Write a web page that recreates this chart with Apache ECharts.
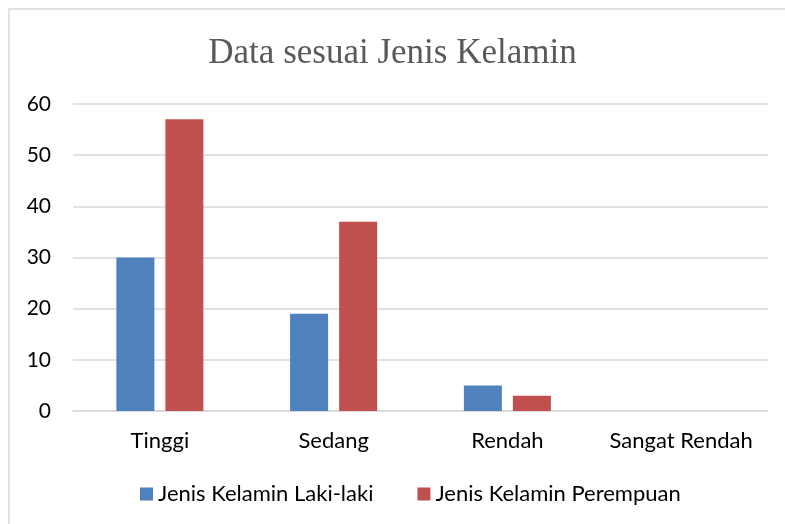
<!DOCTYPE html>
<html>
<head>
<meta charset="utf-8">
<script src="https://cdn.jsdelivr.net/npm/echarts@6/dist/echarts.min.js"></script>
<style>
  html, body { margin: 0; padding: 0; background: #fff; }
  #chart { width: 785px; height: 524px; }
</style>
</head>
<body>
<div id="chart"></div>
<script>
var categories = ["Tinggi", "Sedang", "Rendah", "Sangat Rendah"];
var lakiLaki = [30, 19, 5, 0];
var perempuan = [57, 37, 3, 0];
var seriesNames = ["Jenis Kelamin Laki-laki", "Jenis Kelamin Perempuan"];
var colors = ["#4F81BD", "#C0504D"];

var myChart = echarts.init(document.getElementById("chart"));
var option = {
  animation: false,
  graphic: [{
    type: "rect",
    shape: { x: 9, y: 9, width: 800, height: 540 },
    style: { fill: "none", stroke: "#d9d9d9", lineWidth: 1.5 }
  }],
  title: {
    text: "Data sesuai Jenis Kelamin",
    left: "center",
    top: 31,
    textStyle: {
      fontFamily: "Liberation Serif",
      fontWeight: "normal",
      fontSize: 35,
      color: "#595959"
    }
  },
  legend: {
    bottom: 14,
    left: 135,
    itemWidth: 13,
    itemHeight: 13,
    itemGap: 44,
    icon: "rect",
    textStyle: { fontFamily: "Lato", fontSize: 22, color: "#000" },
    data: seriesNames
  },
  grid: { left: 73, right: 17, top: 104, bottom: 113 },
  xAxis: {
    type: "category",
    data: categories,
    axisTick: { show: false },
    axisLine: { lineStyle: { color: "#d9d9d9", width: 1.5 } },
    axisLabel: { fontFamily: "Lato", fontSize: 22, color: "#000", margin: 19, interval: 0 }
  },
  yAxis: {
    type: "value",
    min: 0,
    max: 60,
    interval: 10,
    axisLine: { show: false },
    axisTick: { show: false },
    axisLabel: { fontFamily: "Lato", fontSize: 21, color: "#000", margin: 22 },
    splitLine: { lineStyle: { color: "#d9d9d9", width: 1.5 } }
  },
  series: [
    {
      name: seriesNames[0],
      type: "bar",
      data: lakiLaki,
      barWidth: 38,
      barGap: "29%",
      itemStyle: { color: colors[0] }
    },
    {
      name: seriesNames[1],
      type: "bar",
      data: perempuan,
      barWidth: 38,
      barGap: "29%",
      itemStyle: { color: colors[1] }
    }
  ]
};
myChart.setOption(option);
</script>
</body>
</html>
